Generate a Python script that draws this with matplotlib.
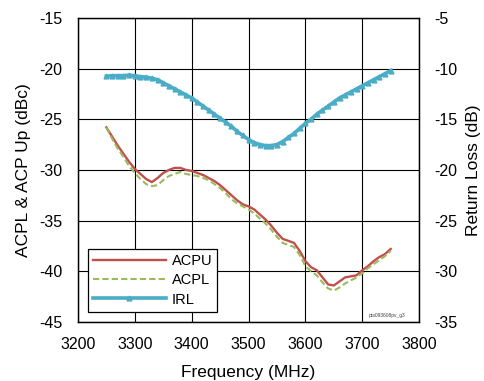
import numpy as np
import matplotlib
matplotlib.use("Agg")
import matplotlib.pyplot as plt

plt.rcParams['font.family'] = ['Liberation Sans', 'DejaVu Sans']
plt.rcParams['axes.unicode_minus'] = False

# dati (passo 10 MHz)
freq = list(range(3250, 3751, 10))

acpu = [-25.8, -26.7, -27.6, -28.4, -29.2, -29.9, -30.4, -30.9, -31.2, -30.8,
        -30.3, -30.0, -29.8, -29.8, -30.0, -30.1, -30.3, -30.5, -30.8, -31.1,
        -31.5, -32.0, -32.5, -33.0, -33.4, -33.6, -33.9, -34.4, -34.9, -35.5,
        -36.2, -36.8, -37.0, -37.2, -38.0, -39.0, -39.6, -39.9, -40.6, -41.3,
        -41.4, -41.0, -40.6, -40.5, -40.4, -39.9, -39.5, -39.0, -38.6, -38.3, -37.8]

acpl = [-25.8, -26.9, -27.9, -28.7, -29.6, -30.3, -30.9, -31.4, -31.6, -31.5,
        -31.0, -30.6, -30.4, -30.2, -30.4, -30.5, -30.6, -30.8, -31.0, -31.4,
        -31.8, -32.3, -32.9, -33.3, -33.6, -33.9, -34.3, -34.8, -35.3, -35.9,
        -36.6, -37.2, -37.4, -37.6, -38.4, -39.5, -40.0, -40.4, -41.1, -41.7,
        -41.9, -41.6, -41.2, -40.9, -40.6, -40.2, -39.7, -39.3, -38.9, -38.5, -38.0]

irl = [-10.75, -10.7, -10.7, -10.7, -10.65, -10.7, -10.8, -10.85, -10.95, -11.1,
       -11.4, -11.7, -12.0, -12.3, -12.6, -12.9, -13.3, -13.7, -14.1, -14.5,
       -14.9, -15.3, -15.7, -16.2, -16.6, -17.0, -17.3, -17.5, -17.6, -17.6,
       -17.5, -17.2, -16.8, -16.4, -15.9, -15.4, -15.0, -14.5, -14.1, -13.7,
       -13.3, -12.9, -12.6, -12.3, -12.0, -11.7, -11.4, -11.1, -10.8, -10.5, -10.2]

fig = plt.figure(figsize=(4.84, 3.81), dpi=100)
ax = fig.add_axes([0.161, 0.155, 0.705, 0.798])
ax2 = ax.twinx()

c_u = '#c0504d'
c_l = '#9bbb59'
c_i = '#4bacc6'

l1, = ax.plot(freq, acpu, color=c_u, lw=1.7, label='ACPU')
l2, = ax.plot(freq, acpl, color=c_l, lw=1.5, ls=(0, (3, 1.5)), label='ACPL')
l3, = ax2.plot(freq, irl, color=c_i, lw=2.6, marker='^', ms=3.5, label='IRL')

ax.set_xlim(3200, 3800)
ax.set_ylim(-45, -15)
ax2.set_ylim(-35, -5)
ax.set_xticks(np.arange(3200, 3801, 100))
ax.set_yticks(np.arange(-45, -14, 5))
ax2.set_yticks(np.arange(-35, -4, 5))

ax.grid(True, color='black', lw=0.8)
for a in (ax, ax2):
    a.tick_params(length=0, labelsize=11.5, pad=11)
    for s in a.spines.values():
        s.set_color('black')
        s.set_linewidth(0.9)

ax.set_xlabel('Frequency (MHz)', fontsize=12.5, labelpad=9)
ax.set_ylabel('ACPL & ACP Up (dBc)', fontsize=12.5, labelpad=6)
ax2.set_ylabel('Return Loss (dB)', fontsize=12.5, labelpad=6)

leg = ax.legend([l1, l2, l3], ['ACPU', 'ACPL', 'IRL'], loc='lower left',
                bbox_to_anchor=(0.029, 0.034), borderaxespad=0, fancybox=False,
                framealpha=1, edgecolor='black', fontsize=10.5, handlelength=5,
                borderpad=0.35, labelspacing=0.35, handletextpad=0.4)
leg.get_frame().set_linewidth(0.9)

ax.text(0.96, 0.012, 'pta093608pv_g3', transform=ax.transAxes, fontsize=3.5,
        ha='right', va='bottom', color='#444444')

fig.savefig('out.png', dpi=100)
